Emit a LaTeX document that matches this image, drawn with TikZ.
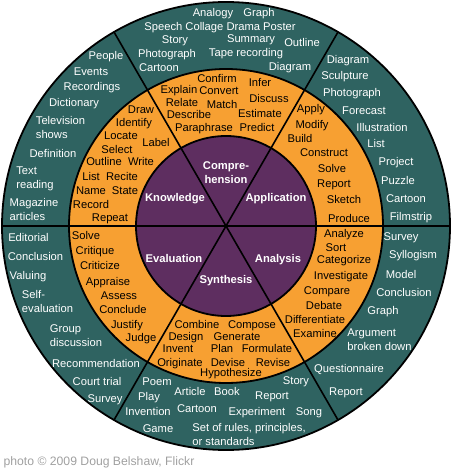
\documentclass[tikz,border=0pt]{standalone}
\usepackage{fontspec}
\setmainfont{Liberation Sans}
\definecolor{wheelteal}{RGB}{47,99,97}
\definecolor{wheelorange}{RGB}{247,160,50}
\definecolor{wheelpurple}{RGB}{94,46,96}
\definecolor{creditgray}{RGB}{160,160,160}
\tikzset{
  word/.style={inner sep=0pt, text height=8pt, text depth=0pt, align=left,
    font=\fontsize{11.2}{14}\selectfont},
  outerword/.style={word, text=white},
  midword/.style={word, text=black},
  coreword/.style={word, text=white, align=center, font=\fontsize{11.2}{13.4}\selectfont\bfseries},
  twolines/.style={yshift=-6.5pt},
}
\begin{document}
\begin{tikzpicture}[x=1pt,y=-1pt]
            \useasboundingbox (0,0) rectangle (453,470);
            \coordinate (c) at (226,226);
            \fill [wheelteal] (c) circle (224pt);
            \fill [wheelorange] (c) circle (157pt);
            \fill [wheelpurple] (c) circle (90pt);
            \draw [line width=1.8pt] (c) circle (224pt) (c) circle (157pt) (c) circle (90pt);
            \foreach \a in {0,60,120}
                \draw [line width=1.6pt] (c) ++(\a:224) -- ++(\a+180:448);
            % outer ring: products
            \foreach \x/\y/\t [count=\i] in {
                213/13/Analogy, 259/13/Graph, 220/27/Speech Collage Drama Poster,
                175/40/Story, 251/39/Summary, 167/54/Photograph, 246/53/Tape recording,
                302/43/Outline, 159/68/Cartoon, 290/67/Diagram,
                106/56/People, 91/72/Events, 92/87/Recordings, 74/103/Dictionary,
                53/154/Definition,
                28.5/237/Editorial, 35.5/256/Conclusion, 28/275/Valuing,
                96/363/Recommendation, 97/381/Court trial, 105/398/Survey,
                157/381/Poem, 149/396/Play, 148/411/Invention, 158/428/Game,
                190/391/Article, 227/391/Book, 197/408/Cartoon,
                296/380/Story, 272/395/Report, 257/411/Experiment, 309/411/Song,
                349/368/Questionnaire, 346/391/Report,
                401/236/Survey, 413/254/Syllogism, 401/274/Model, 404/292/Conclusion,
                383/310/Graph,
                348/60/Diagram, 345/76/Sculpture, 352/93/Photograph, 364/111/Forecast,
                382/128/Illustration, 376/144/List, 396/162/Project, 398/181/Puzzle,
                406/198/Cartoon, 411/216/Filmstrip}
                \node [outerword] (out\i) at (\x,\y) {\t};
            \foreach \x/\y/\t [count=\i] in {
                60.5/128/{Television\\shows}, 35/178/{Text\\reading},
                34/210/{Magazine\\articles}, 47.5/302/{Self-\\evaluation},
                76/335.5/{Group\\discussion}, 249/434.5/{Set of rules, principles,\\or standards},
                379.5/340/{Argument\\broken down}}
                \node [outerword, twolines] (outpair\i) at (\x,\y) {\t};
            % middle ring: verbs
            \foreach \x/\y/\t [count=\i] in {
                217/79/Confirm, 260/83/Infer, 179/90/Explain, 219/91/Convert,
                269/99/Discuss, 182/103/Relate, 222/105/Match, 189/115/Describe,
                260/114/Estimate, 204/128/Paraphrase, 257/128/Predict,
                141/110/Draw, 134/123/Identify, 121/136/Locate, 156/143/Label,
                117/150/Select, 104/162/Outline, 141/162/Write, 91/176/List,
                122/176/Recite, 91/190/Name, 125/190/State, 91/204/Record, 110/217/Repeat,
                311/109/Apply, 312/125/Modify, 300/139/Build, 324/153/Construct,
                332/168/Solve, 334/183/Report, 344/200/Sketch, 349/218/Produce,
                344/233/Analyze, 336/247/Sort, 344/259/Categorize, 341/275/Investigate,
                327/290/Compare, 324/305/Debate, 315/319/Differentiate, 315/333/Examine,
                197/324/Combine, 252/324/Compose, 186/336/Design, 237/336/Generate,
                178/348/Invent, 222/348/Plan, 267/348/Formulate, 180/362/Originate,
                228/362/Devise, 273/362/Revise, 231/372/Hypothesize,
                86/235/Solve, 95/250/Critique, 100/265/Criticize, 108/281/Appraise,
                119/295/Assess, 123/309/Conclude, 127/324/Justify, 141/337/Judge}
                \node [midword] (mid\i) at (\x,\y) {\t};
            % centre: levels
            \node [coreword] (knowledge) at (175,197) {Knowledge};
            \node [coreword, twolines] (comprehension) at (226,172.5) {Compre-\\hension};
            \node [coreword] (application) at (276,197) {Application};
            \node [coreword] (evaluation) at (174,258) {Evaluation};
            \node [coreword] (analysis) at (278,258) {Analysis};
            \node [coreword] (synthesis) at (226,279) {Synthesis};
            \node [inner sep=0pt, text=creditgray, font=\fontsize{12.2}{14}\selectfont]
                (credit) at (99,462) {photo © 2009 Doug Belshaw, Flickr};
        \end{tikzpicture}
\end{document}
